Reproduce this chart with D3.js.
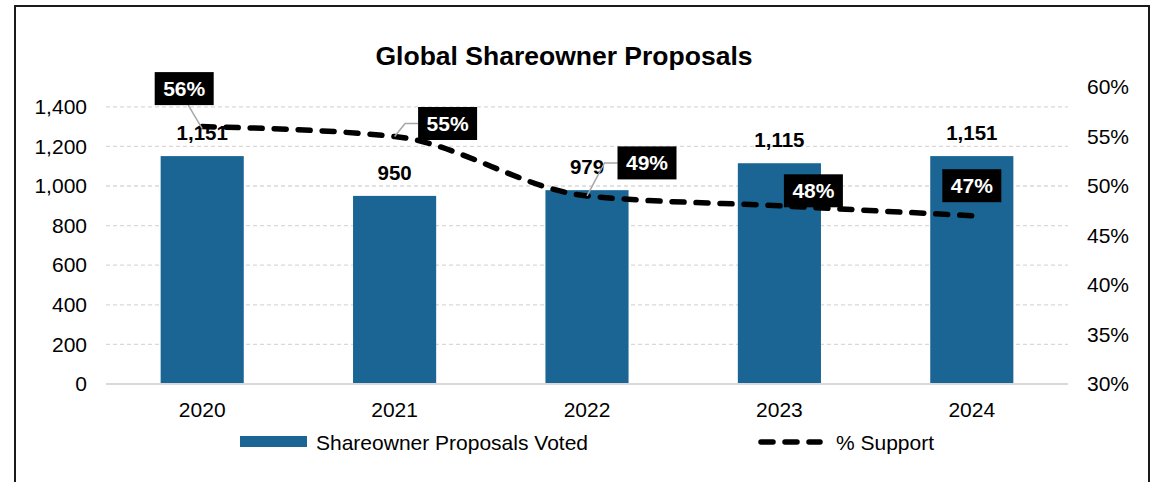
<!DOCTYPE html>
<html>
<head>
<meta charset="utf-8">
<script src="https://cdn.jsdelivr.net/npm/d3@7"></script>
<style>
  html, body { margin: 0; padding: 0; background: #fff; }
  svg { display: block; font-family: "Liberation Sans", Arial, sans-serif; }
</style>
</head>
<body>
<svg id="chart" width="1153" height="482"></svg>
<script>
// Chart data
const years = ["2020", "2021", "2022", "2023", "2024"];
const proposalsVoted = [1151, 950, 979, 1115, 1151];
const supportPct = [56, 55, 49, 48, 47];
const leftTicks = [0, 200, 400, 600, 800, 1000, 1200, 1400];
const rightTicks = [30, 35, 40, 45, 50, 55, 60];

// Placement of the % callouts relative to each line point (box centre offset)
const calloutOffsets = [[-18, -38], [53, -13], [60, -33], [34, -15], [0, -30]];
// Whether a callout has a leader line, and where it leaves the box
const calloutLeaders = ["bottom", "left", "left", null, null];

const plot = { left: 106, right: 1068, top: 87, bottom: 384 };
const barColor = "#1a6594";

const svg = d3.select("#chart");

// Frame
svg.append("rect")
  .attr("x", 15).attr("y", 6)
  .attr("width", 1134).attr("height", 520)
  .attr("fill", "#fff")
  .attr("stroke", "#1a1a1a").attr("stroke-width", 2);

// Title
svg.append("text")
  .attr("x", 564).attr("y", 65)
  .attr("text-anchor", "middle")
  .attr("font-size", 26.5).attr("font-weight", "bold")
  .attr("fill", "#000")
  .text("Global Shareowner Proposals");

// Scales
const x = d3.scaleBand()
  .domain(years)
  .range([plot.left, plot.right])
  .paddingInner(0.568).paddingOuter(0.284);
const yL = d3.scaleLinear().domain([0, 1500]).range([plot.bottom, plot.top]);
const yR = d3.scaleLinear().domain([30, 60]).range([plot.bottom, plot.top]);

// Gridlines
svg.append("g")
  .selectAll("line")
  .data(leftTicks.filter(d => d > 0))
  .join("line")
  .attr("x1", plot.left).attr("x2", plot.right)
  .attr("y1", d => yL(d)).attr("y2", d => yL(d))
  .attr("stroke", "#d9d9d9").attr("stroke-width", 1.3)
  .attr("stroke-dasharray", "4 3");

// Left axis
const leftAxis = svg.append("g")
  .attr("transform", `translate(${plot.left},0)`)
  .call(d3.axisLeft(yL).tickValues(leftTicks).tickSize(0).tickPadding(19)
    .tickFormat(d3.format(",")));
leftAxis.select(".domain").remove();
leftAxis.selectAll("text")
  .attr("font-size", 21).attr("fill", "#000")
  .attr("font-family", "Liberation Sans, Arial, sans-serif");

// Right axis
const rightAxis = svg.append("g")
  .attr("transform", `translate(${plot.right},0)`)
  .call(d3.axisRight(yR).tickValues(rightTicks).tickSize(0).tickPadding(19)
    .tickFormat(d => d + "%"));
rightAxis.select(".domain").remove();
rightAxis.selectAll("text")
  .attr("font-size", 21).attr("fill", "#000")
  .attr("font-family", "Liberation Sans, Arial, sans-serif");

// Bars
svg.append("g")
  .selectAll("rect")
  .data(years)
  .join("rect")
  .attr("x", d => x(d))
  .attr("y", (d, i) => yL(proposalsVoted[i]))
  .attr("width", x.bandwidth())
  .attr("height", (d, i) => yL(0) - yL(proposalsVoted[i]))
  .attr("fill", barColor);

// Baseline
svg.append("line")
  .attr("x1", plot.left).attr("x2", plot.right)
  .attr("y1", yL(0)).attr("y2", yL(0))
  .attr("stroke", "#d9d9d9").attr("stroke-width", 2);

// Bottom axis
const bottomAxis = svg.append("g")
  .attr("transform", `translate(0,${plot.bottom})`)
  .call(d3.axisBottom(x).tickSize(0).tickPadding(18));
bottomAxis.select(".domain").remove();
bottomAxis.selectAll("text")
  .attr("font-size", 21).attr("fill", "#000")
  .attr("font-family", "Liberation Sans, Arial, sans-serif");

// Bar value labels
svg.append("g")
  .selectAll("text")
  .data(years)
  .join("text")
  .attr("x", d => x(d) + x.bandwidth() / 2)
  .attr("y", (d, i) => yL(proposalsVoted[i]) - 16)
  .attr("text-anchor", "middle")
  .attr("font-size", 20.5).attr("font-weight", "bold")
  .attr("fill", "#000")
  .text((d, i) => d3.format(",")(proposalsVoted[i]));

// Support line
const pts = years.map((d, i) => [x(d) + x.bandwidth() / 2, yR(supportPct[i])]);
svg.append("path")
  .datum(pts)
  .attr("d", d3.line().curve(d3.curveMonotoneX))
  .attr("fill", "none")
  .attr("stroke", "#000").attr("stroke-width", 5.5)
  .attr("stroke-dasharray", "12 12")
  .attr("stroke-linecap", "round");

// Callouts
const boxW = 59, boxH = 33;
const callouts = svg.append("g");
pts.forEach((p, i) => {
  const cx = p[0] + calloutOffsets[i][0];
  const cy = p[1] + calloutOffsets[i][1];
  const kind = calloutLeaders[i];
  if (kind === "bottom") {
    callouts.append("line")
      .attr("x1", cx + 4).attr("y1", cy + boxH / 2)
      .attr("x2", p[0]).attr("y2", p[1] + 2)
      .attr("stroke", "#a6a6a6").attr("stroke-width", 1.5);
  } else if (kind === "left") {
    const bx = cx - boxW / 2;
    callouts.append("polyline")
      .attr("points", [[bx, cy], [bx - 13, cy], [p[0], p[1]]].map(q => q.join(",")).join(" "))
      .attr("fill", "none")
      .attr("stroke", "#a6a6a6").attr("stroke-width", 1.5);
  }
  callouts.append("rect")
    .attr("x", cx - boxW / 2).attr("y", cy - boxH / 2)
    .attr("width", boxW).attr("height", boxH)
    .attr("fill", "#000");
  callouts.append("text")
    .attr("x", cx).attr("y", cy)
    .attr("dy", "0.36em")
    .attr("text-anchor", "middle")
    .attr("font-size", 21).attr("font-weight", "bold")
    .attr("fill", "#fff")
    .text(supportPct[i] + "%");
});

// Legend
const legend = svg.append("g");
legend.append("rect")
  .attr("x", 240).attr("y", 436).attr("width", 67).attr("height", 11)
  .attr("fill", barColor);
legend.append("text")
  .attr("x", 316).attr("y", 442).attr("dy", "0.36em")
  .attr("font-size", 21).attr("fill", "#000")
  .text("Shareowner Proposals Voted");
legend.append("line")
  .attr("x1", 761).attr("x2", 820).attr("y1", 442).attr("y2", 442)
  .attr("stroke", "#000").attr("stroke-width", 5.5)
  .attr("stroke-dasharray", "12 12")
  .attr("stroke-linecap", "round");
legend.append("text")
  .attr("x", 836).attr("y", 442).attr("dy", "0.36em")
  .attr("font-size", 21).attr("fill", "#000")
  .text("% Support");
</script>
</body>
</html>
